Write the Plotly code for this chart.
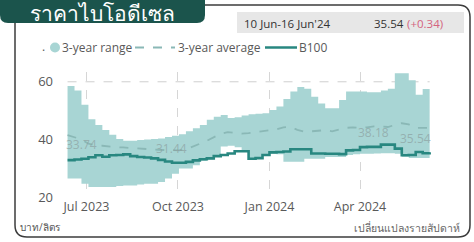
import plotly.graph_objects as go
import pandas as pd

# ---------------- data (weekly, Monday week start) ----------------
week_start = "2023-06-12"
n_weeks = 53
dates = pd.date_range(week_start, periods=n_weeks, freq="7D")

range_upper = [58.5, 57.0, 52.0, 47.0, 45.0, 43.3, 41.6, 40.1, 39.5, 39.5,
               39.8, 40.0, 40.1, 40.3, 40.8, 41.3, 41.8, 42.8, 43.9, 45.0,
               46.8, 47.9, 48.5, 47.4, 47.7, 48.3, 48.7, 48.9, 49.1, 50.2,
               51.4, 54.0, 56.6, 58.2, 57.6, 54.8, 52.5, 50.8, 50.8, 53.7,
               56.6, 56.6, 56.6, 56.4, 56.4, 57.0, 57.6, 63.0, 63.0, 60.5,
               55.5, 57.5, 58.0]
range_lower = [26.4, 26.4, 24.6, 23.5, 23.5, 23.5, 23.5, 23.8, 24.0, 24.0,
               24.3, 24.6, 24.6, 25.2, 26.4, 28.1, 29.9, 29.9, 31.0, 32.5,
               33.0, 34.0, 37.5, 37.8, 37.3, 36.0, 33.0, 33.3, 34.2, 35.0,
               34.8, 32.2, 32.2, 32.2, 33.3, 33.3, 33.3, 33.9, 33.9, 33.9,
               34.6, 34.8, 35.0, 35.0, 35.1, 35.2, 35.2, 35.0, 34.0, 33.5,
               33.5, 33.5, 33.5]
avg_3y = [41.5, 40.8, 40.0, 38.5, 38.0, 37.8, 37.5, 37.3, 37.2, 37.0,
          36.8, 36.6, 36.5, 36.4, 36.3, 36.3, 36.2, 36.5, 37.4, 38.5,
          39.5, 40.8, 42.0, 42.5, 42.3, 42.0, 42.2, 42.5, 42.8, 43.2,
          43.5, 44.2, 44.4, 43.3, 42.7, 42.8, 43.0, 43.2, 42.8, 43.5,
          44.0, 44.2, 44.0, 44.2, 44.5, 44.5, 44.3, 45.0, 45.6, 45.2,
          44.0, 44.0, 44.0]
b100 = [32.8, 33.0, 33.3, 33.8, 34.5, 34.0, 34.5, 34.6, 34.8, 34.2,
        33.9, 33.7, 33.4, 32.9, 32.3, 31.9, 31.9, 32.2, 32.7, 33.1,
        33.4, 34.2, 34.6, 35.1, 35.9, 35.9, 33.3, 33.5, 34.6, 35.5,
        35.6, 35.8, 36.6, 36.6, 36.6, 35.1, 35.1, 35.0, 35.0, 34.9,
        36.2, 36.3, 37.3, 37.4, 37.4, 38.2, 38.2, 36.8, 34.5, 34.6,
        35.6, 35.2, 35.54]

value_label_idx = [2, 15, 44, 50]
value_label_text = ["33.74", "31.44", "38.18", "35.54"]

y_ticks = [20, 40, 60]
title_text = "ราคาไบโอดีเซล"
period_text = "10 Jun-16 Jun'24"
latest_text = "35.54"
change_text = "(+0.34)"
unit_text = "บาท/ลิตร"
note_text = "เปลี่ยนแปลงรายสัปดาห์"
legend_names = ["3-year range", "3-year average", "B100"]

# ---------------- style ----------------
BAND = "rgb(168,213,212)"
AVG = "rgb(138,184,182)"
LINE = "rgb(40,135,128)"
TAB = "rgb(27,84,76)"
TXT = "#595959"
FONT = "Open Sans, Noto Sans, DejaVu Sans, sans-serif"

W, H = 474, 242
ML, MR, MT, MB = 60, 34, 72, 45
PW, PH = W - ML - MR, H - MT - MB


def px(x):
    return (x - ML) / PW


def py(y):
    return (H - MB - y) / PH


def pt(x, y):
    return f"{px(x):.5f},{py(y):.5f}"


fig = go.Figure()
fig.add_trace(go.Scatter(x=dates, y=range_lower, mode="lines", line=dict(width=0, shape="hv"),
                         showlegend=False, hoverinfo="skip"))
fig.add_trace(go.Scatter(x=dates, y=range_upper, mode="lines", line=dict(width=0, shape="hv"),
                         fill="tonexty", fillcolor=BAND, name=legend_names[0], showlegend=False))
fig.add_trace(go.Scatter(x=dates, y=avg_3y, mode="lines", line=dict(color=AVG, width=1.8, dash="dash"),
                         name=legend_names[1], showlegend=False))
fig.add_trace(go.Scatter(x=dates, y=b100, mode="lines", line=dict(color=LINE, width=2.6, shape="hv"),
                         name=legend_names[2], showlegend=False))

shapes = []
annotations = []

# horizontal dashed reference at 60
shapes.append(dict(type="line", xref="x", yref="y", x0=dates[0], x1=dates[-1], y0=60, y1=60,
                   line=dict(color="#cfcfcf", width=1, dash="dash"), layer="below"))

# title tab
tab = (f"M{pt(0,-2)} L{pt(205,-2)} L{pt(205,15)} Q{pt(205,23)} {pt(197,23)} "
       f"L{pt(8,23)} Q{pt(0,23)} {pt(0,15)} Z")
shapes.append(dict(type="path", xref="paper", yref="paper", path=tab, fillcolor=TAB,
                   line=dict(width=0)))
# card border
card = (f"M{pt(205,5)} L{pt(458,5)} Q{pt(470,5)} {pt(470,17)} L{pt(470,225)} "
        f"Q{pt(470,237)} {pt(458,237)} L{pt(27,237)} Q{pt(15,237)} {pt(15,225)} L{pt(15,23)}")
shapes.append(dict(type="path", xref="paper", yref="paper", path=card,
                   line=dict(color="#3c3c3c", width=1.5)))
# grey info box
shapes.append(dict(type="rect", xref="paper", yref="paper", x0=px(237), x1=px(464), y0=py(33), y1=py(12),
                   fillcolor="#e7e7e7", line=dict(width=0)))

# legend
shapes.append(dict(type="circle", xref="paper", yref="paper", x0=px(50), x1=px(60), y0=py(52.5), y1=py(42.5),
                   fillcolor=BAND, line=dict(width=0)))
shapes.append(dict(type="line", xref="paper", yref="paper", x0=px(135), x1=px(175), y0=py(47.5), y1=py(47.5),
                   line=dict(color=AVG, width=2, dash="dash")))
shapes.append(dict(type="line", xref="paper", yref="paper", x0=px(265), x1=px(297), y0=py(47.5), y1=py(47.5),
                   line=dict(color=LINE, width=2.5)))


def txt(x, y, s, size=12, color=TXT, anchor="left", font=FONT):
    annotations.append(dict(xref="paper", yref="paper", x=px(x), y=py(y), text=s, showarrow=False,
                            xanchor=anchor, yanchor="middle", font=dict(size=size, color=color, family=font)))


txt(40, 46, ".", 12)
txt(60, 47.5, legend_names[0], 12)
txt(176, 47.5, legend_names[1], 12)
txt(297, 47.5, legend_names[2], 12)

txt(102, 13, title_text, 21, "white", "center")
txt(242, 23, period_text, 11.5, "#333333")
txt(372, 23, latest_text, 11.5, "#333333")
txt(405, 23, change_text, 11.5, "#d4637e")
txt(18, 227, unit_text, 10, "#555555")
txt(462, 228, note_text, 10.5, "#666666", "right")

for i, s in zip(value_label_idx, value_label_text):
    annotations.append(dict(xref="x", yref="y", x=dates[i], y=b100[i], text=s, showarrow=False,
                            yshift=14, xanchor="center", yanchor="middle",
                            font=dict(size=12, color="rgba(140,160,160,0.7)", family=FONT)))

fig.update_layout(
    width=W, height=H,
    margin=dict(l=ML, r=MR, t=MT, b=MB),
    paper_bgcolor="white", plot_bgcolor="white",
    showlegend=False,
    shapes=shapes, annotations=annotations,
    font=dict(family=FONT, color=TXT),
    xaxis=dict(type="date", range=["2023-06-04 10:00", "2024-06-20 10:00"],
               tick0="2023-07-01", dtick="M3", tickformat="%b %Y",
               showgrid=True, gridcolor="#d6d6d6", griddash="dash", gridwidth=1,
               showline=False, zeroline=False, ticks="",
               tickfont=dict(size=12.5, color=TXT)),
    yaxis=dict(range=[20, 63.4], tickvals=y_ticks, showgrid=False, zeroline=False,
               showline=False, ticks="", ticklabelstandoff=6,
               tickfont=dict(size=13, color=TXT)),
)

fig.write_html("out.html", config={"displayModeBar": False},
               post_script="document.body.style.margin='0';document.body.style.padding='0';")
